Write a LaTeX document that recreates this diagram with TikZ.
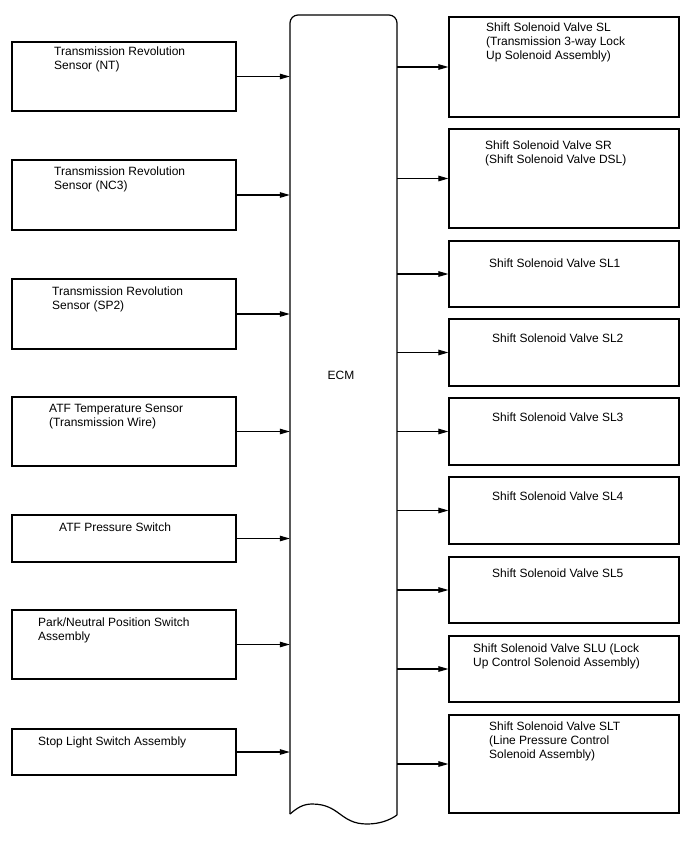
\documentclass[tikz,border=0pt]{standalone}
\usepackage{fontspec}
\setmainfont{Liberation Sans}
\usetikzlibrary{arrows.meta}
\begin{document}
\begin{tikzpicture}[x=1pt,y=-1pt,
  box/.style={draw=black, line width=1.2pt, inner sep=0pt, rectangle},
  lbox/.style={box, minimum width=224pt},
  rbox/.style={box, minimum width=230pt},
  lbl/.style={anchor=north west, inner sep=0pt, align=left, font=\fontsize{12}{14}\selectfont},
  arr/.style={line width=1.1pt, -{Triangle[length=10pt,width=5.5pt]}}]
\useasboundingbox (0,0) rectangle (688,852);

% ECM
\node[inner sep=0pt, minimum width=107pt, minimum height=799pt] (ecm) at (343.5,414.5) {};
\draw[line width=1.2pt, rounded corners=8pt] (290,814) -- (290,15) -- (397,15) -- (397,815);
\draw[line width=1.2pt] (397,815) .. controls (390,820) and (380,824) .. (367,824)
  .. controls (340,824) and (340,804) .. (312,804)
  .. controls (303,804) and (297,808) .. (290,814);
\node[inner sep=0pt, font=\fontsize{12}{14}\selectfont] (ecmlabel) at (341,375.5) {ECM};

% left boxes
\node[lbox, minimum height=69pt] (L1) at (124,76.5) {};
\node[lbox, minimum height=70pt] (L2) at (124,195) {};
\node[lbox, minimum height=70pt] (L3) at (124,314) {};
\node[lbox, minimum height=69pt] (L4) at (124,431.5) {};
\node[lbox, minimum height=47pt] (L5) at (124,538.5) {};
\node[lbox, minimum height=69pt] (L6) at (124,644.5) {};
\node[lbox, minimum height=46pt] (L7) at (124,752) {};

\node[lbl] (tL1) at (54,47) {Transmission Revolution\\Sensor (NT)};
\node[lbl] (tL2) at (54,167) {Transmission Revolution\\Sensor (NC3)};
\node[lbl] (tL3) at (52,287) {Transmission Revolution\\Sensor (SP2)};
\node[lbl] (tL4) at (49,404) {ATF Temperature Sensor\\(Transmission Wire)};
\node[lbl] (tL5) at (59,523) {ATF Pressure Switch};
\node[lbl] (tL6) at (38,618) {Park/Neutral Position Switch\\Assembly};
\node[lbl] (tL7) at (38,737) {Stop Light Switch Assembly};

% right boxes
\node[rbox, minimum height=100pt] (R1) at (564,67) {};
\node[rbox, minimum height=99pt] (R2) at (564,178.5) {};
\node[rbox, minimum height=66pt] (R3) at (564,274) {};
\node[rbox, minimum height=67pt] (R4) at (564,352.5) {};
\node[rbox, minimum height=67pt] (R5) at (564,431.5) {};
\node[rbox, minimum height=67pt] (R6) at (564,510.5) {};
\node[rbox, minimum height=66pt] (R7) at (564,590) {};
\node[rbox, minimum height=66pt] (R8) at (564,669) {};
\node[rbox, minimum height=98pt] (R9) at (564,764) {};

\node[lbl] (tR1) at (486,23) {Shift Solenoid Valve SL\\(Transmission 3-way Lock\\Up Solenoid Assembly)};
\node[lbl] (tR2) at (485,141) {Shift Solenoid Valve SR\\(Shift Solenoid Valve DSL)};
\node[lbl] (tR3) at (489,259) {Shift Solenoid Valve SL1};
\node[lbl] (tR4) at (492,334) {Shift Solenoid Valve SL2};
\node[lbl] (tR5) at (492,413) {Shift Solenoid Valve SL3};
\node[lbl] (tR6) at (492,492) {Shift Solenoid Valve SL4};
\node[lbl] (tR7) at (492,569) {Shift Solenoid Valve SL5};
\node[lbl] (tR8) at (473,644) {Shift Solenoid Valve SLU (Lock\\Up Control Solenoid Assembly)};
\node[lbl] (tR9) at (489,722) {Shift Solenoid Valve SLT\\(Line Pressure Control\\Solenoid Assembly)};

% connectors
\foreach \n in {L1,L2,L3,L4,L5,L6,L7}
  \draw[arr] (\n.east) -- (\n.east -| ecm.west);
\foreach \n in {R1,R2,R3,R4,R5,R6,R7,R8,R9}
  \draw[arr] (\n.west -| ecm.east) -- (\n.west);
\end{tikzpicture}
\end{document}
